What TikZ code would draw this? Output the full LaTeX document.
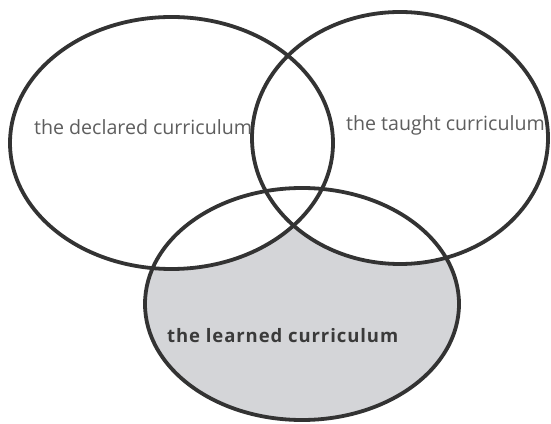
\documentclass[tikz,border=0pt]{standalone}
\usepackage{fontspec}
\setmainfont{Open Sans}
\newfontfamily\learnfont[LetterSpace=5]{Open Sans}
\definecolor{ringc}{HTML}{333333}
\definecolor{fillg}{HTML}{D4D5D8}
\definecolor{txtg}{HTML}{5E5E5E}
\definecolor{txtd}{HTML}{3A3A3A}
\begin{document}
\begin{tikzpicture}[x=1pt,y=1pt,
  ring/.style={draw=ringc,line width=3.8pt},
  lbl/.style={inner sep=0pt,text=txtg,font=\fontsize{19.6}{22}\selectfont},
  lblb/.style={inner sep=0pt,text=txtd,font=\learnfont\fontsize{18.5}{22}\selectfont\bfseries}]
\useasboundingbox (0,0) rectangle (551,423);
\fill[white] (0,0) rectangle (551,423);
% fills
\fill[fillg] (302,119) ellipse [x radius=157,y radius=116];
\fill[white] (171.5,280) ellipse [x radius=161.5,y radius=126];
\fill[white] (400,285) ellipse [x radius=148,y radius=126];
% outlines
\draw[ring] (171.5,280) ellipse [x radius=161.5,y radius=126];
\draw[ring] (400,285) ellipse [x radius=148,y radius=126];
\draw[ring] (302,119) ellipse [x radius=157,y radius=116];
% labels
\node[lbl,anchor=west] (declared) at (34,296) {the declared curriculum};
\node[lbl,anchor=west] (taught) at (346,298) {the taught curriculum};
\node[lblb,anchor=west] (learned) at (167,87) {the learned curriculum};
\end{tikzpicture}
\end{document}
